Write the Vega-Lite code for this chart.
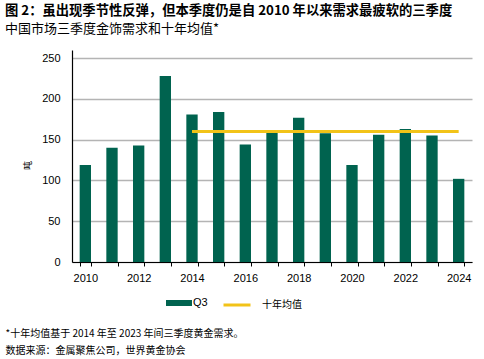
{
  "$schema": "https://vega.github.io/schema/vega-lite/v6.json",
  "autosize": "none",
  "width": 400,
  "height": 212,
  "padding": {"left": 72, "top": 50, "right": 12, "bottom": 97},
  "background": "white",
  "config": {"view": {"stroke": null}},
  "title": {
    "text": "图 2：虽出现季节性反弹，但本季度仍是自 2010 年以来需求最疲软的三季度",
    "subtitle": "中国市场三季度金饰需求和十年均值*",
    "anchor": "start",
    "frame": "group",
    "dx": -67,
    "font": "Noto Sans CJK SC",
    "fontSize": 13.3,
    "fontWeight": "bold",
    "color": "#000000",
    "subtitleFont": "Noto Sans CJK SC",
    "subtitleFontSize": 13,
    "subtitleColor": "#000000",
    "subtitlePadding": 6,
    "offset": 14
  },
  "data": {
    "values": [
      {"year": 2010, "q3": 119, "avg": null},
      {"year": 2011, "q3": 140, "avg": null},
      {"year": 2012, "q3": 143, "avg": null},
      {"year": 2013, "q3": 228, "avg": null},
      {"year": 2014, "q3": 181, "avg": 160},
      {"year": 2015, "q3": 184, "avg": 160},
      {"year": 2016, "q3": 144, "avg": 160},
      {"year": 2017, "q3": 162, "avg": 160},
      {"year": 2018, "q3": 177, "avg": 160},
      {"year": 2019, "q3": 158, "avg": 160},
      {"year": 2020, "q3": 119, "avg": 160},
      {"year": 2021, "q3": 156, "avg": 160},
      {"year": 2022, "q3": 163, "avg": 160},
      {"year": 2023, "q3": 155, "avg": 160},
      {"year": 2024, "q3": 102, "avg": 160}
    ]
  },
  "layer": [
    {
      "mark": {"type": "bar"},
      "encoding": {
        "x": {
          "field": "year",
          "type": "ordinal",
          "scale": {"paddingInner": 0.575, "paddingOuter": 0.2875},
          "axis": {
            "labelAngle": 0,
            "labelExpr": "datum.value % 2 == 0 ? datum.label : ''",
            "tickBand": "extent",
            "ticks": true,
            "tickSize": 4,
            "tickColor": "#000000",
            "domainColor": "#000000",
            "domainWidth": 1.2,
            "grid": false,
            "labelFont": "Liberation Sans",
            "labelFontSize": 11,
            "labelColor": "#000000",
            "labelPadding": 6,
            "title": ["*十年均值基于 2014 年至 2023 年间三季度黄金需求。", "数据来源：金属聚焦公司，世界黄金协会"],
            "titleFont": "Noto Sans CJK SC",
            "titleFontSize": 10,
            "titleFontWeight": "normal",
            "titleColor": "#000000",
            "titleAnchor": "start",
            "titleAlign": "left",
            "titleBaseline": "top",
            "titleLineHeight": 17,
            "titleX": -67,
            "titleY": 66
          }
        },
        "y": {
          "field": "q3",
          "type": "quantitative",
          "scale": {"domain": [0, 250]},
          "axis": {
            "values": [0, 50, 100, 150, 200, 250],
            "grid": true,
            "gridColor": "#b4b4b4",
            "gridWidth": 1.5,
            "ticks": false,
            "domainColor": "#000000",
            "domainWidth": 1.2,
            "labelFont": "Liberation Sans",
            "labelFontSize": 11,
            "labelColor": "#000000",
            "labelPadding": 12,
            "title": "吨",
            "titleFont": "Noto Sans CJK SC",
            "titleFontSize": 9,
            "titleFontWeight": "normal",
            "titleColor": "#000000",
            "titleX": -45,
            "titleY": 115,
            "titleAngle": -90,
            "titleAlign": "center",
            "titleBaseline": "middle"
          }
        },
        "color": {
          "datum": "Q3",
          "scale": {"range": ["#00634F"]},
          "legend": {
            "orient": "none",
            "legendX": 94,
            "legendY": 240,
            "padding": 0,
            "title": null,
            "symbolType": "M-1,-0.23H1V0.23H-1Z",
            "symbolSize": 676,
            "symbolStrokeWidth": 0,
            "labelOffset": 1,
            "labelFont": "Liberation Sans",
            "labelFontSize": 11,
            "labelColor": "#000000"
          }
        }
      }
    },
    {
      "mark": {"type": "line", "strokeWidth": 3},
      "encoding": {
        "x": {"field": "year", "type": "ordinal"},
        "y": {"field": "avg", "type": "quantitative"},
        "stroke": {
          "datum": "十年均值",
          "scale": {"range": ["#F2C318"]},
          "legend": {
            "orient": "none",
            "legendX": 150,
            "legendY": 240,
            "padding": 0,
            "title": null,
            "symbolType": "stroke",
            "symbolSize": 729,
            "symbolStrokeWidth": 3,
            "labelOffset": 10,
            "labelFont": "Noto Sans CJK SC",
            "labelFontSize": 10,
            "labelColor": "#000000"
          }
        }
      }
    }
  ]
}
